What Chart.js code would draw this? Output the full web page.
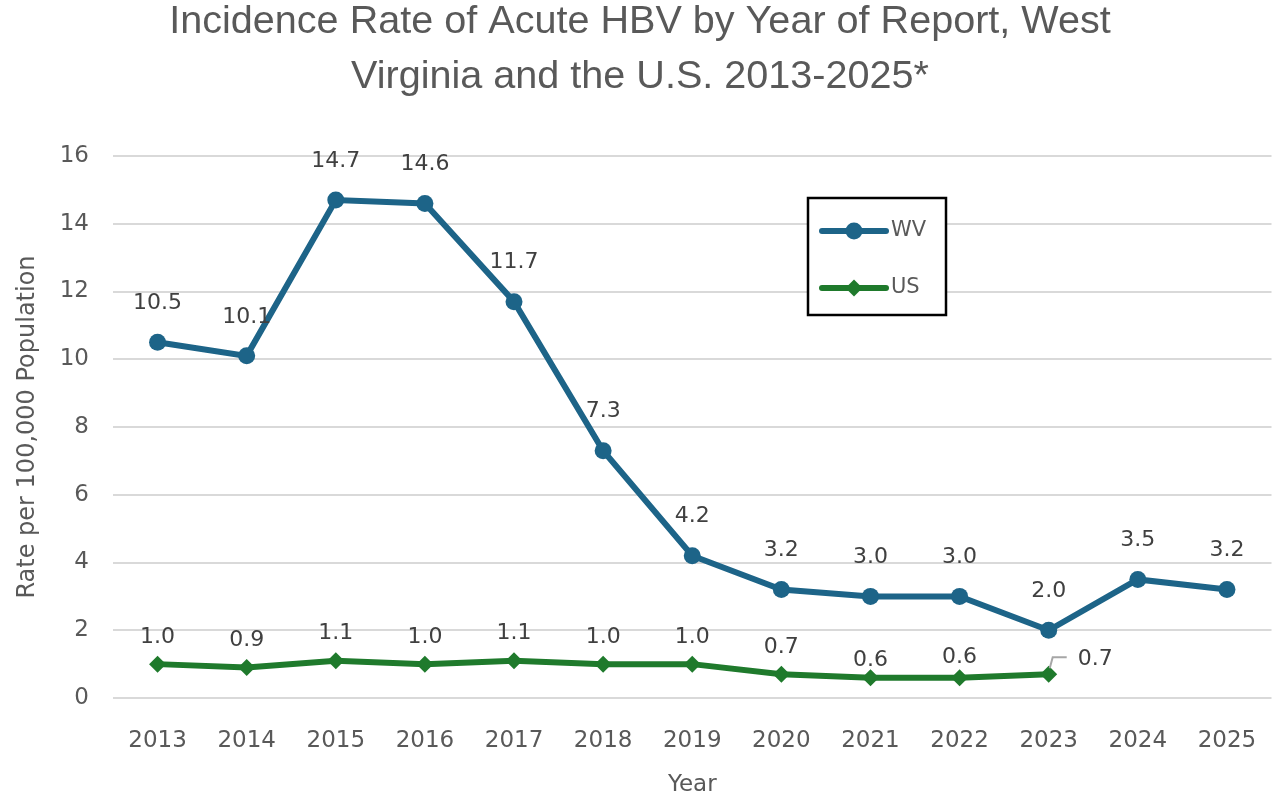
<!DOCTYPE html>
<html>
<head>
<meta charset="utf-8">
<script src="https://cdn.jsdelivr.net/npm/chart.js@4.4.1/dist/chart.umd.min.js"></script>
<style>
  html, body { margin: 0; padding: 0; background: #ffffff; overflow: hidden; }
  #wrap { width: 1280px; height: 799px; position: relative; }
</style>
</head>
<body>
<div id="wrap"><canvas id="c"></canvas></div>
<script>
// ---- Data ----
const years = ['2013','2014','2015','2016','2017','2018','2019','2020','2021','2022','2023','2024','2025'];
const wvRates = [10.5, 10.1, 14.7, 14.6, 11.7, 7.3, 4.2, 3.2, 3.0, 3.0, 2.0, 3.5, 3.2];
const usRates = [1.0, 0.9, 1.1, 1.0, 1.1, 1.0, 1.0, 0.7, 0.6, 0.6, 0.7, null, null];
const yTickValues = [0, 2, 4, 6, 8, 10, 12, 14, 16];
const titleLines = ['Incidence Rate of Acute HBV by Year of Report, West', 'Virginia and the U.S. 2013-2025*'];
const yAxisTitle = 'Rate per 100,000 Population';
const xAxisTitle = 'Year';

// ---- Styles ----
const WV_COLOR = '#1d6488';
const US_COLOR = '#1f7a2c';
const TEXT_GRAY = '#595959';
const LABEL_GRAY = '#404040';
const GRID_GRAY = '#d9d9d9';
const BODY_FONT = '"DejaVu Sans", "Liberation Sans", sans-serif';
const TITLE_FONT = '"Liberation Sans", sans-serif';

// fit title font size so that the first line is ~942px wide
function fitTitleSize() {
  const cv = document.createElement('canvas');
  const cx = cv.getContext('2d');
  cx.font = '40px ' + TITLE_FONT;
  const w = cx.measureText(titleLines[0]).width;
  let s = 40 * 942 / w;
  return Math.max(28, Math.min(50, s));
}
const titleSize = fitTitleSize();

// label placement tweaks (vertical distance above the point, px)
const wvLabelLift = 39;
const usLabelLift = [27, 27, 27, 27, 27, 27, 27, 27, 17, 20, 0, 0, 0];
const usCalloutIndex = 10;

const labelPlugin = {
  id: 'pointLabels',
  afterDatasetsDraw(chart) {
    const ctx = chart.ctx;
    ctx.save();
    ctx.font = '22px ' + BODY_FONT;
    ctx.fillStyle = LABEL_GRAY;
    ctx.textBaseline = 'middle';
    chart.data.datasets.forEach((ds, di) => {
      const meta = chart.getDatasetMeta(di);
      meta.data.forEach((pt, i) => {
        const v = ds.data[i];
        if (v === null || v === undefined) return;
        const txt = v.toFixed(1);
        if (di === 0) {
          ctx.textAlign = 'center';
          ctx.fillText(txt, pt.x, pt.y - wvLabelLift);
        } else if (i === usCalloutIndex) {
          ctx.strokeStyle = '#a6a6a6';
          ctx.lineWidth = 2;
          ctx.beginPath();
          ctx.moveTo(pt.x + 1, pt.y - 6);
          ctx.lineTo(pt.x + 4, pt.y - 17);
          ctx.lineTo(pt.x + 18, pt.y - 17);
          ctx.stroke();
          ctx.textAlign = 'left';
          ctx.fillText(txt, pt.x + 29, pt.y - 15);
        } else {
          ctx.textAlign = 'center';
          ctx.fillText(txt, pt.x, pt.y - usLabelLift[i]);
        }
      });
    });
    ctx.restore();
  }
};

const boxLegendPlugin = {
  id: 'boxLegend',
  afterDatasetsDraw(chart) {
    const ctx = chart.ctx;
    const bx = 808, by = 198, bw = 138, bh = 117;
    ctx.save();
    ctx.fillStyle = '#ffffff';
    ctx.fillRect(bx, by, bw, bh);
    ctx.strokeStyle = '#000000';
    ctx.lineWidth = 2.5;
    ctx.strokeRect(bx, by, bw, bh);
    chart.data.datasets.forEach((ds, i) => {
      const y = 231 + i * 57;
      ctx.strokeStyle = ds.borderColor;
      ctx.lineWidth = ds.borderWidth;
      ctx.lineCap = 'round';
      ctx.beginPath();
      ctx.moveTo(822, y);
      ctx.lineTo(886, y);
      ctx.stroke();
      ctx.fillStyle = ds.borderColor;
      ctx.beginPath();
      if (ds.pointStyle === 'circle') {
        ctx.arc(854, y, ds.pointRadius, 0, Math.PI * 2);
      } else {
        const r = ds.pointRadius;
        ctx.moveTo(854, y - r); ctx.lineTo(854 + r, y); ctx.lineTo(854, y + r); ctx.lineTo(854 - r, y);
        ctx.closePath();
      }
      ctx.fill();
      ctx.fillStyle = TEXT_GRAY;
      ctx.font = '21px ' + BODY_FONT;
      ctx.textAlign = 'left';
      ctx.textBaseline = 'middle';
      ctx.fillText(ds.label, 891, y);
    });
    ctx.restore();
  }
};

new Chart(document.getElementById('c'), {
  type: 'line',
  data: {
    labels: years,
    datasets: [
      {
        label: 'WV',
        data: wvRates,
        borderColor: WV_COLOR,
        backgroundColor: WV_COLOR,
        borderWidth: 6,
        pointStyle: 'circle',
        pointRadius: 8.5,
        pointBackgroundColor: WV_COLOR,
        pointBorderColor: WV_COLOR,
        pointBorderWidth: 0,
        tension: 0
      },
      {
        label: 'US',
        data: usRates,
        borderColor: US_COLOR,
        backgroundColor: US_COLOR,
        borderWidth: 6,
        pointStyle: 'rectRot',
        pointRadius: 8.5,
        pointBackgroundColor: US_COLOR,
        pointBorderColor: US_COLOR,
        pointBorderWidth: 0,
        spanGaps: false,
        tension: 0
      }
    ]
  },
  options: {
    responsive: true,
    maintainAspectRatio: false,
    animation: false,
    devicePixelRatio: 1,
    layout: { padding: { left: 0, right: 0, top: 0, bottom: 0 } },
    plugins: {
      legend: { display: false },
      tooltip: { enabled: false },
      title: {
        display: true,
        text: titleLines,
        color: TEXT_GRAY,
        font: { family: TITLE_FONT, size: titleSize, weight: 'normal', lineHeight: '55px' },
        padding: { top: -5, bottom: 51 }
      }
    },
    scales: {
      x: {
        type: 'category',
        offset: true,
        grid: { display: false, drawTicks: false },
        border: { display: false },
        ticks: {
          color: TEXT_GRAY,
          font: { family: BODY_FONT, size: 23 },
          padding: 29,
          maxRotation: 0,
          autoSkip: false
        },
        title: {
          display: true,
          text: xAxisTitle,
          color: TEXT_GRAY,
          font: { family: BODY_FONT, size: 23 },
          padding: { top: 0, bottom: 0 }
        },
        afterFit(s) { s.height = 101; s.paddingLeft = 0; s.paddingRight = 0; }
      },
      y: {
        min: 0,
        max: 16,
        afterBuildTicks(s) { s.ticks = yTickValues.map(v => ({ value: v })); },
        grid: { color: GRID_GRAY, lineWidth: 2, drawTicks: false },
        border: { display: false },
        ticks: {
          color: TEXT_GRAY,
          font: { family: BODY_FONT, size: 23 },
          padding: 24
        },
        title: {
          display: true,
          text: yAxisTitle,
          color: TEXT_GRAY,
          font: { family: BODY_FONT, size: 24 },
          padding: { top: 13, bottom: 0 }
        },
        afterFit(s) { s.width = 113; }
      }
    }
  },
  plugins: [boxLegendPlugin, labelPlugin]
});
</script>
</body>
</html>
